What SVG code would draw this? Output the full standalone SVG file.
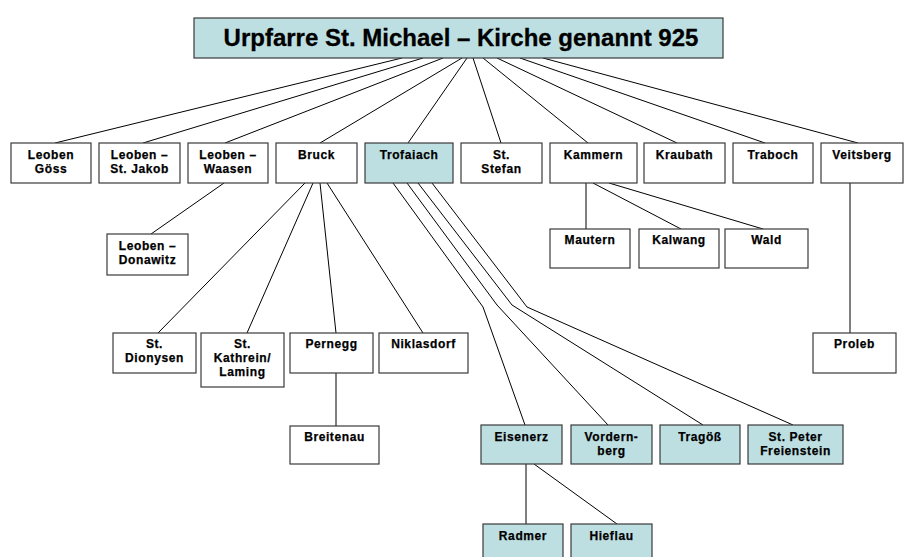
<svg xmlns="http://www.w3.org/2000/svg" width="904" height="557" viewBox="0 0 904 557">
<style>
.b{fill:#ffffff;stroke:#3a3a3a;stroke-width:1.2}
.c{fill:#bddfe2;stroke:#3a3a3a;stroke-width:1.2}
.t{font-family:"Liberation Sans",Arial,sans-serif;font-weight:bold;font-size:12px;letter-spacing:0.6px;text-anchor:middle;fill:#000;stroke:#000;stroke-width:0.25}
.h{font-family:"Liberation Sans",Arial,sans-serif;font-weight:bold;font-size:24px;text-anchor:middle;fill:#000;stroke:#000;stroke-width:0.3}
.l{fill:none;stroke:#000;stroke-width:1}
</style>
<rect width="904" height="557" fill="#ffffff"/>
<g id="connectors">
<line class="l" x1="402" y1="58" x2="55" y2="143"/>
<line class="l" x1="423" y1="58" x2="143" y2="143"/>
<line class="l" x1="443" y1="58" x2="225" y2="143"/>
<line class="l" x1="462" y1="58" x2="320" y2="143"/>
<line class="l" x1="467" y1="58" x2="408" y2="143"/>
<line class="l" x1="473" y1="58" x2="501" y2="143"/>
<line class="l" x1="483" y1="58" x2="588" y2="143"/>
<line class="l" x1="497" y1="58" x2="677" y2="143"/>
<line class="l" x1="520" y1="58" x2="765" y2="143"/>
<line class="l" x1="543" y1="58" x2="858" y2="143"/>
<line class="l" x1="224" y1="183" x2="151" y2="234"/>
<line class="l" x1="305" y1="183" x2="158" y2="333"/>
<line class="l" x1="313" y1="183" x2="247" y2="333"/>
<line class="l" x1="320" y1="183" x2="336" y2="333"/>
<line class="l" x1="327" y1="183" x2="423" y2="333"/>
<line class="l" x1="336" y1="373" x2="336" y2="426"/>
<polyline class="l" points="393,183 483,307 525,425"/>
<polyline class="l" points="407,183 497,305 608,425"/>
<polyline class="l" points="418,183 512,305 703,425"/>
<polyline class="l" points="432,183 527,307 793,425"/>
<line class="l" x1="586" y1="183" x2="586" y2="229"/>
<line class="l" x1="593" y1="183" x2="681" y2="229"/>
<line class="l" x1="609" y1="183" x2="763" y2="229"/>
<line class="l" x1="850" y1="183" x2="850" y2="333"/>
<line class="l" x1="526" y1="464" x2="526" y2="524"/>
<line class="l" x1="534" y1="464" x2="617" y2="524"/>
</g>
<g id="title"><rect class="c" x="194" y="18" width="529" height="40"/><text class="h" x="461" y="46">Urpfarre St. Michael – Kirche genannt 925</text></g>
<g id="leoben-goess"><rect class="b" x="11" y="143" width="80" height="40"/><text class="t" x="51" y="159">Leoben</text><text class="t" x="51" y="172.5">Göss</text></g>
<g id="leoben-jakob"><rect class="b" x="99" y="143" width="81" height="40"/><text class="t" x="139.5" y="159">Leoben –</text><text class="t" x="139.5" y="172.5">St. Jakob</text></g>
<g id="leoben-waasen"><rect class="b" x="188" y="143" width="80" height="40"/><text class="t" x="228" y="159">Leoben –</text><text class="t" x="228" y="172.5">Waasen</text></g>
<g id="bruck"><rect class="b" x="276" y="143" width="81" height="40"/><text class="t" x="316.5" y="159">Bruck</text></g>
<g id="trofaiach"><rect class="c" x="365" y="143" width="88" height="40"/><text class="t" x="409" y="159">Trofaiach</text></g>
<g id="st-stefan"><rect class="b" x="461" y="143" width="81" height="40"/><text class="t" x="501.5" y="159">St.</text><text class="t" x="501.5" y="172.5">Stefan</text></g>
<g id="kammern"><rect class="b" x="550" y="143" width="87" height="40"/><text class="t" x="593.5" y="159">Kammern</text></g>
<g id="kraubath"><rect class="b" x="644" y="143" width="81" height="40"/><text class="t" x="684.5" y="159">Kraubath</text></g>
<g id="traboch"><rect class="b" x="733" y="143" width="80" height="40"/><text class="t" x="773" y="159">Traboch</text></g>
<g id="veitsberg"><rect class="b" x="821" y="143" width="82" height="40"/><text class="t" x="862" y="159">Veitsberg</text></g>
<g id="leoben-donawitz"><rect class="b" x="107" y="234" width="81" height="41"/><text class="t" x="147.5" y="250">Leoben –</text><text class="t" x="147.5" y="264">Donawitz</text></g>
<g id="mautern"><rect class="b" x="550" y="229" width="80" height="39"/><text class="t" x="590" y="244">Mautern</text></g>
<g id="kalwang"><rect class="b" x="639" y="229" width="80" height="39"/><text class="t" x="679" y="244">Kalwang</text></g>
<g id="wald"><rect class="b" x="725" y="229" width="83" height="39"/><text class="t" x="766.5" y="244">Wald</text></g>
<g id="st-dionysen"><rect class="b" x="113" y="333" width="83" height="40"/><text class="t" x="154.5" y="348">St.</text><text class="t" x="154.5" y="362">Dionysen</text></g>
<g id="st-kathrein"><rect class="b" x="201" y="333" width="83" height="54"/><text class="t" x="242.5" y="348">St.</text><text class="t" x="242.5" y="362">Kathrein/</text><text class="t" x="242.5" y="376">Laming</text></g>
<g id="pernegg"><rect class="b" x="290" y="333" width="83" height="40"/><text class="t" x="331.5" y="348">Pernegg</text></g>
<g id="niklasdorf"><rect class="b" x="379" y="333" width="89" height="40"/><text class="t" x="423.5" y="348">Niklasdorf</text></g>
<g id="proleb"><rect class="b" x="813" y="333" width="83" height="40"/><text class="t" x="854.5" y="348">Proleb</text></g>
<g id="breitenau"><rect class="b" x="290" y="426" width="89" height="38"/><text class="t" x="334.5" y="441">Breitenau</text></g>
<g id="eisenerz"><rect class="c" x="481" y="425" width="81" height="39"/><text class="t" x="521.5" y="441">Eisenerz</text></g>
<g id="vordernberg"><rect class="c" x="571" y="425" width="81" height="39"/><text class="t" x="611.5" y="441">Vordern-</text><text class="t" x="611.5" y="455">berg</text></g>
<g id="tragoess"><rect class="c" x="660" y="425" width="80" height="39"/><text class="t" x="700" y="441">Tragöß</text></g>
<g id="st-peter-freienstein"><rect class="c" x="748" y="425" width="95" height="39"/><text class="t" x="795.5" y="441">St. Peter</text><text class="t" x="795.5" y="455">Freienstein</text></g>
<g id="radmer"><rect class="c" x="483" y="524" width="80" height="40"/><text class="t" x="523" y="540">Radmer</text></g>
<g id="hieflau"><rect class="c" x="571" y="524" width="81" height="40"/><text class="t" x="611.5" y="540">Hieflau</text></g>
</svg>
